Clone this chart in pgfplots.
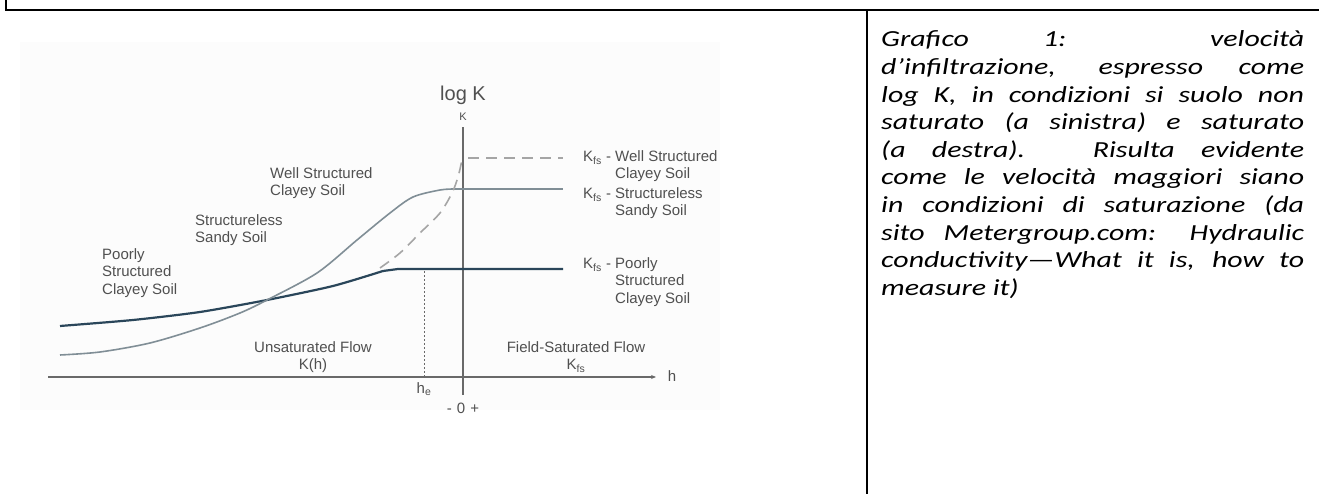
\documentclass[border=0pt]{standalone}
\usepackage{fontspec}
\setmainfont{Carlito}
\newfontfamily\capfont[FakeStretch=1.3]{Carlito}
\newfontfamily\chartfont{Liberation Sans}
\usepackage{pgfplots}
\pgfplotsset{compat=1.18}
\usetikzlibrary{arrows.meta}

\definecolor{poorly}{RGB}{42,70,90}
\definecolor{sandy}{RGB}{128,142,150}
\definecolor{wellc}{RGB}{165,165,165}
\definecolor{axisgray}{RGB}{105,105,105}
\definecolor{labelgray}{RGB}{80,80,80}
\definecolor{bgfaint}{RGB}{252,252,252}

\begin{document}
\begin{tikzpicture}[x=1pt,y=1pt]
\path[use as bounding box] (0,0) rectangle (1319,494);
\fill[white] (0,0) rectangle (1319,494);

% table frame
\draw[line width=2pt] (6,494) -- (6,484) -- (1319,484);
\draw[line width=1.6pt] (867,484) -- (867,0);

% faint figure background
\fill[bgfaint] (20,84) rectangle (720,452);

\begin{axis}[
  at={(43pt,107pt)}, anchor=south west,
  scale only axis, width=640pt, height=270pt,
  xmin=-42, xmax=22, ymin=-1, ymax=26,
  hide axis, clip=false,
]
% axes
\draw[axisgray, line width=1.1pt, -{Stealth[length=5pt,width=4pt]}] (axis cs:-41.5,0) -- (axis cs:19.3,0);
\draw[axisgray, line width=1.1pt] (axis cs:0,-1.8) -- (axis cs:0,25);
\draw[axisgray, line width=0.9pt, dash pattern=on 2pt off 2pt] (axis cs:-3.9,0) -- (axis cs:-3.9,10.7);

% poorly structured clayey soil
\addplot[poorly, line width=2.2pt, smooth, tension=0.4] coordinates {
  (-40.3,5.1) (-33,5.7) (-26.3,6.5) (-19.6,7.7) (-13,9.1) (-8,10.6)
};
\addplot[poorly, line width=2.2pt] coordinates {(-8,10.6) (-6.5,10.8) (10,10.8)};

% structureless sandy soil
\addplot[sandy, line width=1.6pt, smooth, tension=0.5] coordinates {
  (-40.3,2.2) (-36.3,2.5) (-31.3,3.4) (-26.3,4.9) (-22.3,6.4) (-19.6,7.7)
  (-14.6,10.4) (-10.6,13.7) (-7.3,16.4) (-5,18) (-2.3,18.7) (-0.8,18.8)
};
\addplot[sandy, line width=1.6pt] coordinates {(-0.8,18.8) (10,18.8)};

% well structured clayey soil
\addplot[wellc, line width=1.6pt, dash pattern=on 11pt off 7pt, smooth, tension=0.5] coordinates {
  (-8.3,10.9) (-6.3,12.4) (-4.3,14.4) (-2.3,16.4) (-1.1,18.4) (-0.5,20) (-0.1,21.7)
};
\addplot[wellc, line width=1.6pt, dash pattern=on 11pt off 7pt] coordinates {(0.5,21.9) (10,21.9)};

\begin{scope}[every node/.style={font=\chartfont\fontsize{15}{17.5}\selectfont, text=labelgray, inner sep=0pt}]
% axis labels
\node[font=\chartfont\fontsize{20}{22}\selectfont] at (axis cs:0,28.2) {log K};
\node[font=\chartfont\fontsize{11}{12}\selectfont] at (axis cs:0,26) {K};
\node at (axis cs:20.9,0.1) {h};
\node at (axis cs:-3.9,-1.2) {h\textsubscript{e}};
\node at (axis cs:0,-3.1) {-\hspace{5pt}0\hspace{5pt}+};

% curve labels
\node[anchor=north west, align=left] at (axis cs:-19.3,21.0) {Well Structured\\Clayey Soil};
\node[anchor=north west, align=left] at (axis cs:-26.8,16.3) {Structureless\\Sandy Soil};
\node[anchor=north west, align=left] at (axis cs:-36.1,12.9) {Poorly\\Structured\\Clayey Soil};
\node[align=center] at (axis cs:-15,2.0) {Unsaturated Flow\\K(h)};
\node[align=center] at (axis cs:11.3,2.0) {Field-Saturated Flow\\K\textsubscript{fs}};

\node[anchor=north west] at (axis cs:12,22.8) {\begin{tabular}{@{}l@{ }l@{}}K\textsubscript{fs} - & Well Structured\\ & Clayey Soil\end{tabular}};
\node[anchor=north west] at (axis cs:12,19.1) {\begin{tabular}{@{}l@{ }l@{}}K\textsubscript{fs} - & Structureless\\ & Sandy Soil\end{tabular}};
\node[anchor=north west] at (axis cs:12,12.1) {\begin{tabular}{@{}l@{ }l@{}}K\textsubscript{fs} - & Poorly\\ & Structured\\ & Clayey Soil\end{tabular}};
\end{scope}
\end{axis}

% caption
\begin{scope}[every node/.style={anchor=base west, inner sep=0pt, font=\capfont\fontsize{23}{27.6}\selectfont\itshape}]
\node at (881,447.0) {\makebox[423pt][s]{Grafico 1: velocità}};
\node at (881,419.4) {\makebox[423pt][s]{d’infiltrazione, espresso come}};
\node at (881,391.8) {\makebox[423pt][s]{log K, in condizioni si suolo non}};
\node at (881,364.2) {\makebox[423pt][s]{saturato (a sinistra) e saturato}};
\node at (881,336.6) {\makebox[423pt][s]{(a destra). Risulta evidente}};
\node at (881,309.0) {\makebox[423pt][s]{come le velocità maggiori siano}};
\node at (881,281.4) {\makebox[423pt][s]{in condizioni di saturazione (da}};
\node at (881,253.8) {\makebox[423pt][s]{sito Metergroup.com: Hydraulic}};
\node at (881,226.2) {\makebox[423pt][s]{conductivity—What it is, how to}};
\node at (881,198.6) {measure it)};
\end{scope}
\end{tikzpicture}
\end{document}
